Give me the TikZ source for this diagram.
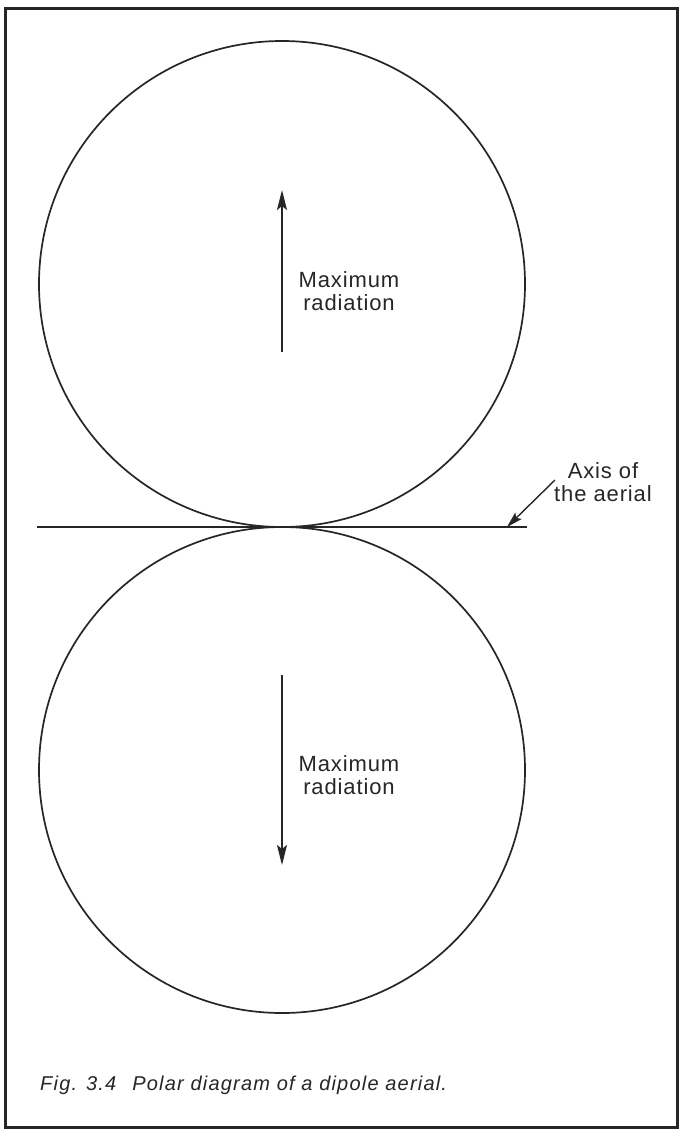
\documentclass[tikz,border=0pt]{standalone}
\usepackage{fontspec}
\setmainfont{Liberation Sans}
\newfontfamily\lblfont[LetterSpace=4]{Liberation Sans}
\newfontfamily\capfont[LetterSpace=6]{Liberation Sans}
\usetikzlibrary{arrows.meta}
\definecolor{ink}{HTML}{262626}
\tikzset{
  curve/.style={draw=ink, line width=1.7pt},
  pointer/.style={draw=ink, line width=2pt, -{Stealth[length=20pt,width=10pt,inset=4pt]}},
  thinpointer/.style={draw=ink, line width=1.4pt, -{Stealth[length=16pt,width=9pt,inset=3pt]}},
  lbl/.style={text=ink, font=\lblfont\fontsize{22}{23}\selectfont, align=center, inner sep=0pt},
}
\begin{document}
\begin{tikzpicture}[x=1pt,y=-1pt]
\useasboundingbox (0,0) rectangle (680,1130);
\fill[white] (0,0) rectangle (680,1130);
\draw[draw=ink, line width=3pt] (5,8) rectangle (677,1127);
% circles
\node[curve, circle, minimum size=486pt, inner sep=0pt] (top) at (282,284) {};
\node[curve, circle, minimum size=486pt, inner sep=0pt] (bot) at (282,770) {};
% axis
\coordinate (axL) at (37,527);
\coordinate (axR) at (527,527);
\draw[curve] (axL) -- (axR);
\coordinate (axTip) at (507,527);
\coordinate (axTail) at (555,480);
\draw[thinpointer] (axTail) -- (axTip);
\node[lbl] (axlbl) at (603,482) {Axis of\\the aerial};
% top arrow
\coordinate (t1) at (282,352);
\coordinate (t2) at (282,190);
\draw[pointer] (t1) -- (t2);
\node[lbl] (tl) at (349,291) {Maximum\\radiation};
% bottom arrow
\coordinate (b1) at (282,675);
\coordinate (b2) at (282,865);
\draw[pointer] (b1) -- (b2);
\node[lbl] (bl) at (349,775) {Maximum\\radiation};
% caption
\node[text=ink, font=\capfont\fontsize{20}{22}\selectfont\itshape, anchor=west, inner sep=0pt] (cap) at (40,1085) {Fig. 3.4\hspace{16pt}Polar diagram of a dipole aerial.};
\end{tikzpicture}
\end{document}
